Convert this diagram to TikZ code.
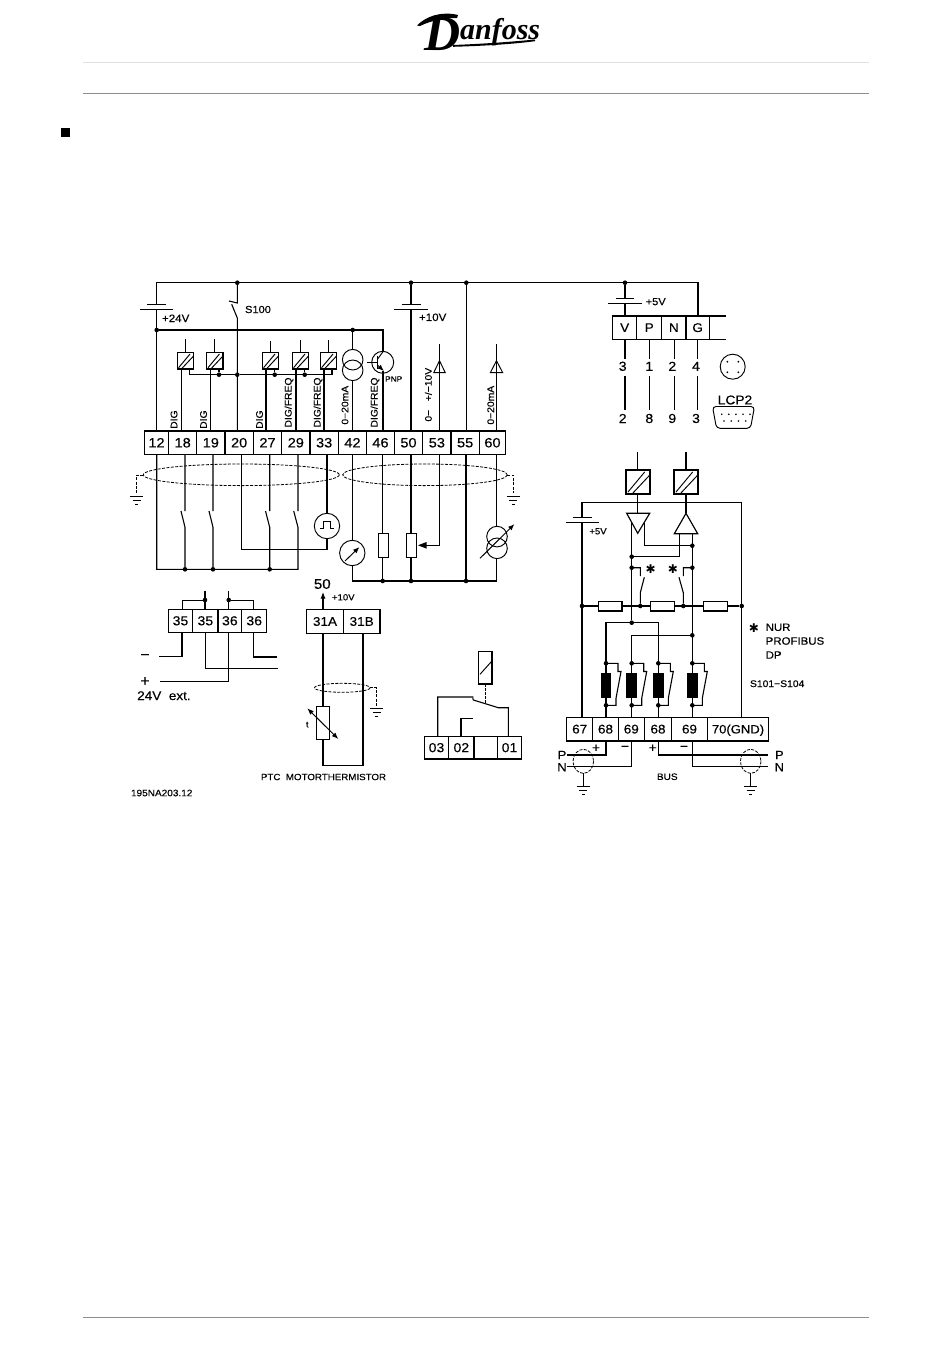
\documentclass[tikz,border=0pt]{standalone}
\usepackage{fontspec}
\setmainfont[FakeBold=0.25,FakeStretch=1.08]{Liberation Sans}
\newfontfamily\logofont[BoldItalicFont={Liberation Serif Bold Italic}]{Liberation Serif}
\newfontfamily\starfont{DejaVu Sans}
\usetikzlibrary{arrows.meta}
\newcommand\fz[1]{\fontsize{\fpeval{#1*0.93}}{\fpeval{#1*0.93}}\selectfont}
\tikzset{
  wire/.style={line width=1.1pt,line cap=butt,line join=miter},
  dot/.style={circle,fill=black,inner sep=0,minimum size=4.6pt,outer sep=0},
  term/.style={draw,line width=1.15pt,inner sep=0,outer sep=0},
  txt/.style={inner sep=0,outer sep=0},
  shield/.style={line width=0.8pt,dash pattern=on 3pt off 1.4pt},
  sym/.style={line width=0.95pt},
  head/.style={-{Latex[length=6.5pt,width=5pt]}},
  dhead/.style={{Latex[length=6.5pt,width=5pt]}-{Latex[length=6.5pt,width=5pt]}},
}
% terminal: name x1 x2 y1 y2 label size
\newcommand\cterm[7]{\node[term,font=\fz{#7},minimum width={(#3-#2)*1pt},minimum height={(#5-#4)*1pt}] (#1) at ({(#2+#3)/2},{(#4+#5)/2}) {#6};}
% ground: x, y of upper bar
\newcommand\gsym[2]{\draw[sym] (#1-6.7,#2) -- (#1+6.7,#2) (#1-4,#2+4) -- (#1+4,#2+4) (#1-1.7,#2+8) -- (#1+1.7,#2+8);}
% opto box: x1 y1 size
\newcommand\optb[3]{\draw[line width=1.15pt] (#1,#2) rectangle (#1+#3,#2+#3);
  \draw[sym] (#1+0.08*#3,#2+0.92*#3) -- (#1+0.78*#3,#2+0.08*#3) (#1+0.25*#3,#2+#3) -- (#1+#3,#2+0.2*#3);}
% relay across S: x
\newcommand\relay[1]{\fill (#1-5.3,673.3) rectangle (#1+5.3,698.3);
  \draw[wire] (#1,663.3) -- (#1+12,663.3) -- (#1+12,671.5) -- (#1+15,671.5) -- (#1+10,698.3) -- (#1+10,705.3) -- (#1,705.3);
  \node[dot] at (#1,663.3) {}; \node[dot] at (#1,705.3) {};}
\begin{document}
\begin{tikzpicture}[x=1pt,y=-1pt]
\useasboundingbox (0,0) rectangle (950,1360);
\fill[white] (0,0) rectangle (950,1360);
% page furniture
\draw[line width=0.6pt,black!12] (83,62) -- (869,62);
\draw[line width=0.8pt,black!45] (83,93.5) -- (869,93.5);
\draw[line width=0.8pt,black!45] (83,1317) -- (869,1317);
\fill (61,128) rectangle (69.5,136.5);
% logo
\node[txt,anchor=base west] (logo) at (424,50) {\logofont\bfseries\itshape\fontsize{50}{50}\selectfont D\fontsize{30}{30}\selectfont\raisebox{11pt}{anfoss}};
\fill (417,25.5) .. controls (426,16) and (442,11) .. (458,15) -- (457,18) .. controls (446,18) and (432,20) .. (420,26) -- cycle;
\fill (453,45) .. controls (480,44) and (510,42) .. (535,39.5) -- (535,41.2) .. controls (510,44.5) and (480,46) .. (453,46.8) -- cycle;
% terminal row
\cterm{t12}{144.3}{168.7}{431}{454.5}{12}{14.5}
\cterm{t18}{168.7}{196.7}{431}{454.5}{18}{14.5}
\cterm{t19}{196.7}{225}{431}{454.5}{19}{14.5}
\cterm{t20}{225}{253.3}{431}{454.5}{20}{14.5}
\cterm{t27}{253.3}{281.7}{431}{454.5}{27}{14.5}
\cterm{t29}{281.7}{310}{431}{454.5}{29}{14.5}
\cterm{t33}{310}{338.3}{431}{454.5}{33}{14.5}
\cterm{t42}{338.3}{366.7}{431}{454.5}{42}{14.5}
\cterm{t46}{366.7}{394.3}{431}{454.5}{46}{14.5}
\cterm{t50}{394.3}{422.7}{431}{454.5}{50}{14.5}
\cterm{t53}{422.7}{451}{431}{454.5}{53}{14.5}
\cterm{t55}{451}{479.3}{431}{454.5}{55}{14.5}
\cterm{t60}{479.3}{505.7}{431}{454.5}{60}{14.5}
% junctions upper
\node[dot] (jS) at (237.3,282.7) {};
\node[dot] (jB) at (411,282.7) {};
\node[dot] (jC) at (466.3,282.7) {};
\node[dot] (jV) at (625,282.7) {};
\node[dot] (j24) at (156.7,330) {};
\node[dot] (jI) at (352.7,330) {};
\node[dot] (jr1) at (219,374.7) {};
\node[dot] (jr2) at (237.3,374.7) {};
\node[dot] (jr3) at (274.7,374.7) {};
\node[dot] (jr4) at (304.7,374.7) {};
% LCP box
\cterm{bV}{612.7}{636.7}{316}{339.3}{V}{13.5}
\cterm{bP}{636.7}{661.7}{316}{339.3}{P}{13.5}
\cterm{bN}{661.7}{686}{316}{339.3}{N}{13.5}
\cterm{bG}{686}{709.3}{316}{339.3}{G}{13.5}
% top bus and batteries
\draw[wire] (156.7,304) -- (156.7,282.7) -- (698,282.7) -- (698,0 |- bG.north);
\draw[wire] (156.7,309) -- (j24) (j24) -- (156.7,0 |- t12.north);
\draw[sym] (147,304) -- (166,304) (140,309) -- (173,309);
\draw[wire] (jS) -- (237.3,303) -- (229,301);
\draw[wire] (231.7,304.3) -- (237.3,318) -- (237.3,0 |- t20.north);
\draw[wire] (jB) -- (411,304.3) (411,309.3) -- (411,0 |- t50.north);
\draw[sym] (401.7,304.3) -- (421,304.3) (394.3,309.3) -- (427.7,309.3);
\draw[wire] (jC) -- (466.3,0 |- t55.north);
\draw[wire] (jV) -- (625,298.3) (625,303.3) -- (625,0 |- bV.north);
\draw[sym] (615.7,298.3) -- (634.3,298.3) (608.3,303.3) -- (641.7,303.3);
\draw[wire] (j24) -- (383,330) -- (383,351.7);
\draw[wire] (jr2) -- (189.7,374.7) -- (189.7,368.7);
\draw[wire] (jr2) -- (332,374.7) -- (332,368.7);
\draw[wire] (jr1) -- (219,368.7) (jr3) -- (274.7,368.7) (jr4) -- (304.7,368.7);
\draw[line width=1.15pt] (709.3,316) -- (726,316) (709.3,339.3) -- (726,339.3);
% optos
\optb{177.3}{352.7}{16.3}\optb{206.7}{352.7}{16.3}\optb{262.3}{352.7}{16.3}\optb{292.3}{352.7}{16.3}\optb{320.3}{352.7}{16.3}
\draw[wire] (185.7,339) -- (185.7,352.7) (181.3,369) -- (181.3,0 |- t18.north);
\draw[wire] (214.7,339) -- (214.7,352.7) (210.7,369) -- (210.7,0 |- t19.north);
\draw[wire] (270.3,341) -- (270.3,352.7) (266,369) -- (266,0 |- t27.north);
\draw[wire] (300.3,340) -- (300.3,352.7) (296,369) -- (296,0 |- t29.north);
\draw[wire] (328.3,340) -- (328.3,352.7) (324,369) -- (324,0 |- t33.north);
% current source 42
\draw[wire] (jI) -- (352.7,349.4) (352.7,380.6) -- (352.7,0 |- t42.north);
\draw[sym] (352.7,359.7) circle (10.3) (352.7,370.3) circle (10.3);
% transistor
\draw[sym] (382.7,362.3) circle (11);
\draw[sym] (366.7,362.3) -- (377.3,362.3) (377.3,355.5) -- (377.3,369);
\draw[sym] (377.3,359.5) -- (383,351.7);
\draw[sym,head] (377.3,365) -- (384,371);
\draw[wire] (383,371) -- (383,0 |- t46.north);
% inputs 53 60
\draw[wire] (439.3,344.3) -- (439.3,0 |- t53.north);
\draw[sym] (433.7,372.7) -- (445.3,372.7) -- (439.5,360.7) -- cycle;
\draw[wire] (496.3,344.3) -- (496.3,0 |- t60.north);
\draw[sym] (490.3,372.7) -- (502.7,372.7) -- (496.5,360.7) -- cycle;
% labels upper
\node[txt,font=\fz{11}] (s100) at (258,309.5) {S100};
\node[txt,font=\fz{11.5}] (v24) at (175.7,318.3) {+24V};
\node[txt,font=\fz{11.5}] (v10) at (432.7,317.3) {+10V};
\node[txt,font=\fz{11}] (v5) at (655.7,301.7) {+5V};
\node[txt,font=\fz{10.3},rotate=90] (l18) at (174,419.6) {DIG};
\node[txt,font=\fz{10.3},rotate=90] (l19) at (203.5,419.6) {DIG};
\node[txt,font=\fz{10.3},rotate=90] (l27) at (259.5,419.6) {DIG};
\node[txt,font=\fz{10.3},rotate=90] (l29) at (289,402.5) {DIG/FREQ};
\node[txt,font=\fz{10.3},rotate=90] (l33) at (318,402.5) {DIG/FREQ};
\node[txt,font=\fz{10.3},rotate=90] (l42) at (345,405.2) {0−20mA};
\node[txt,font=\fz{10.3},rotate=90] (l46) at (375,402.5) {DIG/FREQ};
\node[txt,font=\fz{10.3},rotate=90] (l53) at (428.3,394.7) {0−\ \ \ +/−10V};
\node[txt,font=\fz{10.3},rotate=90] (l60) at (490.7,405.2) {0−20mA};
\node[txt,font=\fz{8.3}] (pnp) at (393.7,379) {PNP};
% LCP pins
\draw[wire] (625,339.3) -- (625,359) (625,376) -- (625,410);
\draw[wire] (649.7,339.3) -- (649.7,359) (649.7,376) -- (649.7,410);
\draw[wire] (674.3,339.3) -- (674.3,359) (674.3,376) -- (674.3,410);
\draw[wire] (697.7,339.3) -- (697.7,359) (697.7,376) -- (697.7,410);
\foreach \nn/\xx/\lab in {a/622.7/3,b/649.3/1,c/672.3/2,d/696/4}{\node[txt,font=\fz{14}] (p\nn) at (\xx,366.3) {\lab};}
\foreach \nn/\xx/\lab in {a/622.7/2,b/649.3/8,c/672.3/9,d/696/3}{\node[txt,font=\fz{14}] (q\nn) at (\xx,418.5) {\lab};}
\draw[sym] (732.7,366.7) circle (12.5);
\foreach \xx/\yy in {727.3/361.7,738.3/361.7,727.3/372.3,738.3/372.3}{\fill (\xx,\yy) circle (1);}
\node[txt,font=\fz{13.7}] (lcp) at (735,400) {LCP2};
\draw[sym,rounded corners=3.5pt] (712.5,406.5) -- (754.5,406.5) -- (750.5,428.3) -- (716.5,428.3) -- cycle;
\foreach \xx in {721.7,728.8,735.9,743,750}{\fill (\xx,414.3) circle (0.9);}
\foreach \xx in {724,731.2,738.4,745.7}{\fill (\xx,421) circle (0.9);}
% lower field wires
\node[dot] (jl1) at (185,569.3) {};
\node[dot] (jl2) at (213,569.3) {};
\node[dot] (jl3) at (269.7,569.3) {};
\draw[wire] (156.7,0 |- t12.south) -- (156.7,569.3) -- (298,569.3) -- (298,527.3) -- (293.7,511) (298,511) -- (298,0 |- t29.south);
\draw[wire] (185,0 |- t18.south) -- (185,511) (181,511) -- (185,527.3) -- (jl1);
\draw[wire] (213,0 |- t19.south) -- (213,511) (209,511) -- (213,527.3) -- (jl2);
\draw[wire] (269.7,0 |- t27.south) -- (269.7,511) (265.5,511) -- (269.7,527.3) -- (jl3);
\draw[wire] (241.3,0 |- t20.south) -- (241.3,549.3) -- (327,549.3) -- (327,538.7);
\draw[wire] (327,0 |- t33.south) -- (327,513.3);
\draw[sym] (327,526) circle (12.7);
\draw[sym] (320,528.5) -- (323.5,528.5) -- (323.5,521.3) -- (330.5,521.3) -- (330.5,528.5) -- (334,528.5);
% shields
\draw[shield] (241.3,474.8) ellipse (98 and 10.8);
\draw[shield] (425,474.8) ellipse (82.3 and 10.8);
\draw[shield] (143.3,475) -- (136.7,475) -- (136.7,493.3);
\gsym{136.7}{496}
\draw[shield] (507.3,475) -- (513.3,475) -- (513.3,493.3);
\gsym{513.3}{496}
% analog side
\node[dot] (ja1) at (382.7,581) {};
\node[dot] (ja2) at (411,581) {};
\node[dot] (ja3) at (466,581) {};
\draw[wire] (352.3,0 |- t42.south) -- (352.3,540.3) (352.3,565.7) -- (352.3,581) -- (496.7,581) -- (496.7,558.6);
\draw[sym] (352.3,553) circle (12.7);
\draw[sym,head] (345,561) -- (359.5,547);
\draw[wire] (382.7,0 |- t46.south) -- (382.7,533.7) (382.7,557.3) -- (ja1);
\draw[line width=1.15pt] (378.3,533.7) rectangle (388.3,557.3);
\draw[wire] (411,0 |- t50.south) -- (411,533.7) (411,557.3) -- (ja2);
\draw[line width=1.15pt] (406.7,533.7) rectangle (416.7,557.3);
\draw[wire] (439.3,0 |- t53.south) -- (439.3,545.3) -- (426,545.3);
\fill (418,545.3) -- (426.5,542) -- (426.5,548.6) -- cycle;
\draw[wire] (466,0 |- t55.south) -- (ja3);
\draw[wire] (496.7,0 |- t60.south) -- (496.7,526.5);
\draw[sym] (497,536.6) circle (10.3) (497,548.3) circle (10.3);
\draw[sym,head] (480,558.3) -- (514.5,524);
% 35/36 block
\cterm{a1}{168.3}{192.7}{609.3}{632.3}{35}{14}
\cterm{a2}{192.7}{218}{609.3}{632.3}{35}{14}
\cterm{a3}{218}{241.7}{609.3}{632.3}{36}{14}
\cterm{a4}{241.7}{266.7}{609.3}{632.3}{36}{14}
\node[dot] (ja) at (205,600) {};
\node[dot] (jb) at (228.7,600) {};
\draw[sym] (182,0 |- a1.north) -- (182,600) -- (ja);
\draw[wire] (205,590.7) -- (205,0 |- a2.north);
\draw[wire] (228.7,590.7) -- (228.7,0 |- a3.north);
\draw[sym] (jb) -- (253.3,600) -- (253.3,0 |- a4.north);
\draw[wire] (182,0 |- a1.south) -- (182,656.7) -- (159.3,656.7);
\draw[wire] (205.3,0 |- a2.south) -- (205.3,668.7) -- (278.3,668.7);
\draw[wire] (228.7,0 |- a3.south) -- (228.7,681.7) -- (160,681.7);
\draw[wire] (253.3,0 |- a4.south) -- (253.3,657) -- (276.7,657);
\node[txt,font=\fz{16}] (mn) at (145,656.8) {−};
\node[txt,font=\fz{16}] (pl) at (145,681.5) {+};
\node[txt,font=\fz{13.5},anchor=west] (ext) at (137.2,695.7) {24V\ \ ext.};
% 31A/31B
\cterm{b1}{306.7}{343.3}{609.3}{633.7}{31A}{13.5}
\cterm{b2}{343.3}{380}{609.3}{633.7}{31B}{13.5}
\draw[wire,head] (323,0 |- b1.north) -- (323,592);
\node[txt,font=\fz{15}] (f50) at (322.3,584) {50};
\node[txt,font=\fz{9.5}] (f10) at (343.3,597.3) {+10V};
\draw[wire] (323,0 |- b1.south) -- (323,706.7) (323,739.3) -- (323,765.7) -- (363,765.7) -- (363,0 |- b2.south);
\draw[line width=1.15pt] (316.3,706.7) rectangle (329.3,739.3);
\draw[sym,dhead] (307.3,708.3) -- (338.3,739);
\node[txt,font=\fz{9}] (tt) at (307.3,724.7) {t};
\draw[shield] (342.3,687.8) ellipse (27.8 and 4.5);
\draw[shield] (370,687.8) -- (376.7,687.8) -- (376.7,706);
\gsym{376.7}{708.3}
\node[txt,font=\fz{9.7}] (ptc) at (323.5,777) {PTC\ \ MOTORTHERMISTOR};
\node[txt,font=\fz{10},anchor=west] (code) at (131,793) {195NA203.12};
% relay output
\cterm{c1}{424.3}{448.7}{736.3}{759}{03}{14}
\cterm{c2}{448.7}{474}{736.3}{759}{02}{14}
\cterm{c3}{474}{497.3}{736.3}{759}{}{14}
\cterm{c4}{497.3}{521.7}{736.3}{759}{01}{14}
\draw[line width=1.15pt] (478.7,651.3) rectangle (492,684);
\draw[sym] (480,674.3) -- (491.3,661.7);
\draw[sym,dash pattern=on 2.5pt off 1.5pt] (485.3,684) -- (485.3,704);
\draw[wire] (437.7,0 |- c1.north) -- (437.7,697) -- (473.3,697) (472.8,698) -- (473.3,700) -- (498.3,707.7) -- (508.3,707.7) -- (508.3,0 |- c4.north);
\draw[wire] (461,0 |- c2.north) -- (461,718.7) -- (473.3,718.7);
% bus terminals
\cterm{d1}{566.7}{592.7}{717.3}{741}{67}{13.5}
\cterm{d2}{592.7}{618.3}{717.3}{741}{68}{13.5}
\cterm{d3}{618.3}{644.3}{717.3}{741}{69}{13.5}
\cterm{d4}{644.3}{671.7}{717.3}{741}{68}{13.5}
\cterm{d5}{671.7}{707.3}{717.3}{741}{69}{13.5}
\cterm{d6}{707.3}{768.7}{717.3}{741}{\raisebox{0pt}[8.5pt][0pt]{70(GND)}}{13}
% right block
\optb{626}{470}{24}\optb{674}{470}{24}
\draw[wire] (637.7,452.3) -- (637.7,470) (637.7,494) -- (637.7,513.3);
\draw[wire] (686,452.3) -- (686,470) (686,494) -- (686,513.3);
\draw[line width=1.15pt] (626.7,513.3) -- (649.7,513.3) -- (637.7,533.3) -- cycle;
\draw[line width=1.15pt] (674.3,533.7) -- (697.7,533.7) -- (686,513.3) -- cycle;
\node[dot] (r1) at (692.3,545.7) {};
\node[dot] (r2) at (631.7,556.7) {};
\node[dot] (r3) at (631.7,567.7) {};
\node[dot] (r4) at (692.3,567.7) {};
\node[dot] (r5) at (582,606) {};
\node[dot] (r6) at (640.3,606) {};
\node[dot] (r7) at (683.3,606) {};
\node[dot] (r8) at (741.7,606) {};
\node[dot] (r9) at (631.7,622.7) {};
\node[dot] (r10) at (692.3,635.3) {};
\draw[wire] (582,517.3) -- (582,502.3) -- (741.7,502.3) -- (741.7,0 |- d6.north);
\draw[wire] (582,522) -- (582,0 |- d1.north);
\draw[sym] (572.7,517.3) -- (591.7,517.3) (565.7,522) -- (599,522);
\node[txt,font=\fz{9.5}] (r5v) at (598,531.3) {+5V};
\draw[wire] (631.7,523.3) -- (r9);
\draw[wire] (644.3,523.3) -- (644.3,545.7) -- (r1);
\draw[wire] (692.3,533.7) -- (692.3,0 |- d5.north);
\draw[wire] (679.7,533.7) -- (679.7,556.7) -- (r2);
\draw[wire] (r3) -- (640.3,567.7) -- (640.3,576) (644.3,577.3) -- (640.3,592.7) -- (r6);
\draw[wire] (r4) -- (683.3,567.7) -- (683.3,576) (679,577.3) -- (683.3,592.7) -- (r7);
\node[txt,font={\starfont\fontsize{12}{12}\selectfont}] (ast1) at (650.7,569.3) {✱};
\node[txt,font={\starfont\fontsize{12}{12}\selectfont}] (ast2) at (673,569.3) {✱};
\draw[wire] (r5) -- (598.3,606) (622,606) -- (650.3,606) (674.3,606) -- (703.3,606) (727.7,606) -- (r8);
\foreach \xa/\xb in {598.3/622,650.3/674.3,703.3/727.7}{\draw[line width=1.15pt] (\xa,601.3) rectangle (\xb,611);}
\draw[wire] (606,0 |- d2.north) -- (606,622.7) -- (658.3,622.7) -- (658.3,0 |- d4.north);
\draw[wire] (631.7,0 |- d3.north) -- (631.7,635.3) -- (r10);
\relay{606}\relay{631.7}\relay{658.3}\relay{692.3}
% bus below
\draw[wire] (606,0 |- d2.south) -- (606,755) -- (567.3,755);
\draw[wire] (631.7,0 |- d3.south) -- (631.7,766.7) -- (567.3,766.7);
\draw[wire] (658.3,0 |- d4.south) -- (658.3,755) -- (768.3,755);
\draw[wire] (692.3,0 |- d5.south) -- (692.3,766.7) -- (768.3,766.7);
\draw[shield] (583.3,761.3) ellipse (10.3 and 12);
\draw[shield] (750.7,761.3) ellipse (10.3 and 12);
\draw[sym] (583.3,773.3) -- (583.3,786.7) (750.7,773.3) -- (750.7,786.7);
\gsym{583.3}{786.7}
\gsym{750.7}{786.7}
\node[txt,font=\fz{13}] (pa) at (562,755) {P};
\node[txt,font=\fz{13}] (na) at (562,767.3) {N};
\node[txt,font=\fz{13}] (pb) at (779.3,755) {P};
\node[txt,font=\fz{13}] (nb) at (779.3,767.3) {N};
\node[txt,font=\fz{14}] (s1) at (596,748.3) {+};
\node[txt,font=\fz{14}] (s2) at (625,748.3) {−};
\node[txt,font=\fz{14}] (s3) at (652.7,748.3) {+};
\node[txt,font=\fz{14}] (s4) at (684,748.3) {−};
\node[txt,font=\fz{10}] (bus) at (667.3,776.7) {BUS};
\node[txt,font={\starfont\fontsize{12}{12}\selectfont}] (ast3) at (754,628.3) {✱};
\node[txt,font=\fz{11.4},anchor=west] (nur) at (765.7,627.3) {NUR};
\node[txt,font=\fz{11.4},anchor=west] (prof) at (765.7,641) {PROFIBUS};
\node[txt,font=\fz{11.4},anchor=west] (dp) at (765.7,655) {DP};
\node[txt,font=\fz{10.3},anchor=west] (s101) at (750,683.7) {S101−S104};
\end{tikzpicture}
\end{document}
